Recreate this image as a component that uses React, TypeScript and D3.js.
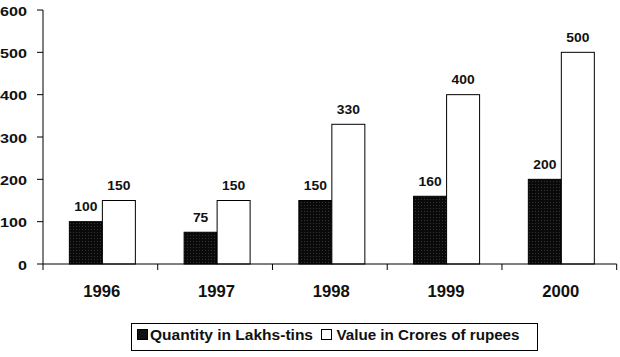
import React from "react";
import * as d3 from "d3";

const years = ["1996", "1997", "1998", "1999", "2000"];
const quantity = [100, 75, 150, 160, 200];
const value = [150, 150, 330, 400, 500];
const yTicks = [0, 100, 200, 300, 400, 500, 600];
const seriesNames = ["Quantity in Lakhs-tins", "Value in Crores of rupees"];

export default function App() {
  const W = 620, H = 357;
  const left = 43, right = 616.7, top = 10, bottom = 264;
  const x = d3.scaleBand<string>().domain(years).range([left, right]);
  const y = d3.scaleLinear().domain([0, 600]).range([bottom, top]);
  const bw = 33;
  const font = "Arial, 'Liberation Sans', sans-serif";
  const numLen = (s: string | number) => String(s).length * 7.7;
  return (
    <svg width={W} height={H} style={{ position: "absolute", left: 0, top: 0, background: "#fff" }}>
      <defs>
        <pattern id="dots" width="3" height="3" patternUnits="userSpaceOnUse">
          <rect width="3" height="3" fill="#0a0a0a" />
          <rect x="1" y="1" width="1" height="1" fill="#333" />
        </pattern>
      </defs>
      {years.map((yr, i) => {
        const c = (x(yr) as number) + x.bandwidth() / 2 + 2;
        const q = quantity[i], v = value[i];
        return (
          <g key={yr}>
            <rect x={c - bw} y={y(q)} width={bw} height={bottom - y(q)} fill="url(#dots)" stroke="#000" strokeWidth={1} />
            <rect x={c} y={y(v)} width={bw} height={bottom - y(v)} fill="#fff" stroke="#000" strokeWidth={1} />
            <text x={c - bw / 2} y={y(q) - 10.5} textAnchor="middle" fontFamily={font} fontWeight="bold" fontSize={13} fill="#111" textLength={numLen(q)} lengthAdjust="spacingAndGlyphs">{q}</text>
            <text x={c + bw / 2} y={y(v) - 10.5} textAnchor="middle" fontFamily={font} fontWeight="bold" fontSize={13} fill="#111" textLength={numLen(v)} lengthAdjust="spacingAndGlyphs">{v}</text>
          </g>
        );
      })}
      <line x1={left} x2={left} y1={top} y2={bottom} stroke="#000" strokeWidth={1} />
      {yTicks.map((t) => (
        <g key={t}>
          <line x1={left - 6} x2={left} y1={y(t)} y2={y(t)} stroke="#000" />
          <text x={27} y={y(t) + 5.5} textAnchor="end" fontFamily={font} fontWeight="bold" fontSize={13.5} fill="#111" textLength={String(t).length * 9} lengthAdjust="spacingAndGlyphs">{t}</text>
        </g>
      ))}
      <line x1={left} x2={right} y1={bottom} y2={bottom} stroke="#000" strokeWidth={1} />
      {[...years.map((yr) => x(yr) as number), right].map((px, i) => (
        <line key={i} x1={px} x2={px} y1={bottom} y2={bottom + 6} stroke="#000" />
      ))}
      {years.map((yr) => (
        <text key={yr} x={(x(yr) as number) + x.bandwidth() / 2 + 1.5} y={297} textAnchor="middle" fontFamily={font} fontWeight="bold" fontSize={16} fill="#111" textLength={37} lengthAdjust="spacingAndGlyphs">{yr}</text>
      ))}
      <rect x={131.5} y={323.5} width={406} height={27} fill="#fff" stroke="#000" strokeWidth={1} />
      <rect x={137.5} y={329.5} width={10} height={10} fill="#111" stroke="#000" />
      <text x={150} y={339.5} fontFamily={font} fontWeight="bold" fontSize={14} fill="#111" textLength={163} lengthAdjust="spacingAndGlyphs">{seriesNames[0]}</text>
      <rect x={321.5} y={329.5} width={10} height={10} fill="#fff" stroke="#000" />
      <text x={336.5} y={339.5} fontFamily={font} fontWeight="bold" fontSize={14} fill="#111" textLength={183} lengthAdjust="spacingAndGlyphs">{seriesNames[1]}</text>
    </svg>
  );
}
